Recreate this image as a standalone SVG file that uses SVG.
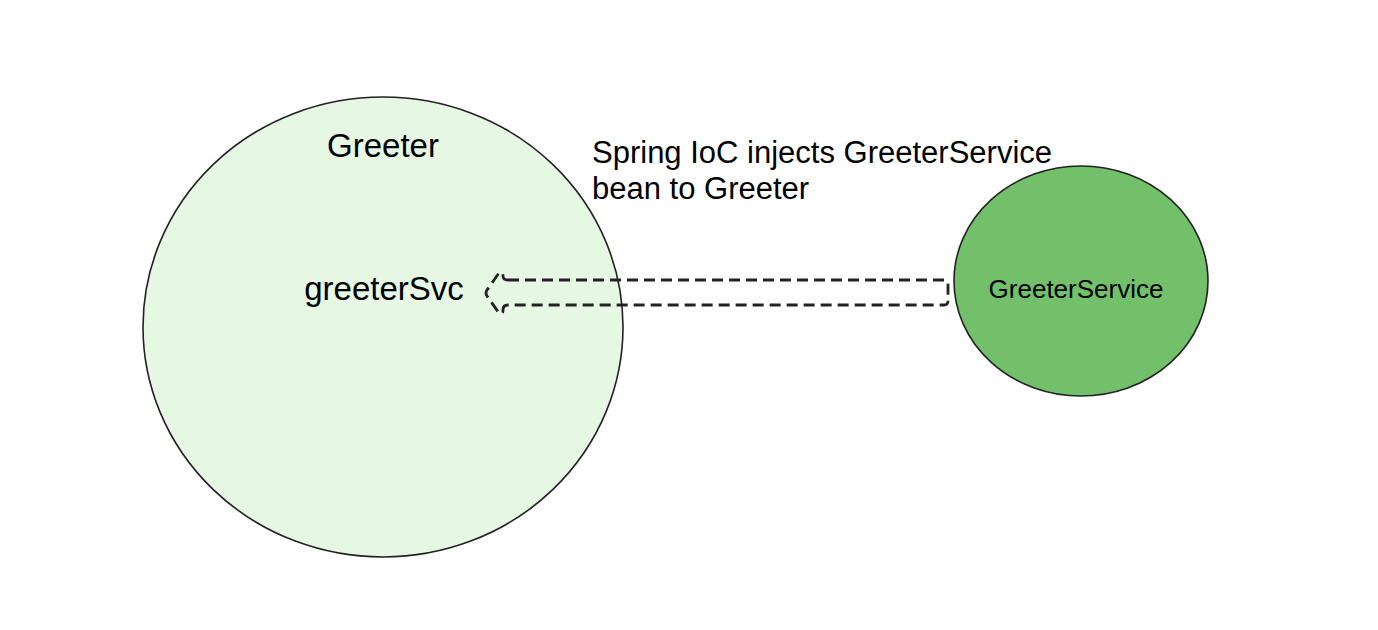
<svg xmlns="http://www.w3.org/2000/svg" width="1378" height="630" viewBox="0 0 1378 630">
<style>
.t{font-family:"Liberation Sans",Arial,sans-serif;fill:#000}
.node{stroke:#222;stroke-width:1.6}
</style>
<rect width="1378" height="630" fill="#fff"/>
<g id="greeter">
<ellipse class="node" cx="383" cy="327" rx="240" ry="230" fill="#e6f7e4"/>
<text class="t" x="383" y="157" font-size="33" text-anchor="middle">Greeter</text>
<text class="t" x="384" y="300" font-size="33" text-anchor="middle">greeterSvc</text>
</g>
<g id="greeterService">
<ellipse class="node" cx="1081" cy="281" rx="127" ry="115" fill="#73c06b"/>
<text class="t" x="1076" y="298" font-size="26" text-anchor="middle">GreeterService</text>
</g>
<g id="connectors">
<path d="M508 280 L944 280 Q948 280 948 284 L948 301 Q948 305 944 305 L508 305 Q503 305 503 310 Q503 315 499 313 L487 296 Q485 293 487 290 L499 273 Q503 271 503 276 Q503 280 508 280 Z" fill="none" stroke="#222" stroke-width="2.8" stroke-dasharray="11 6"/>
</g>
<g id="label">
<text class="t" x="592" y="163" font-size="31">Spring IoC injects GreeterService</text>
<text class="t" x="592" y="199" font-size="31">bean to Greeter</text>
</g>
</svg>
